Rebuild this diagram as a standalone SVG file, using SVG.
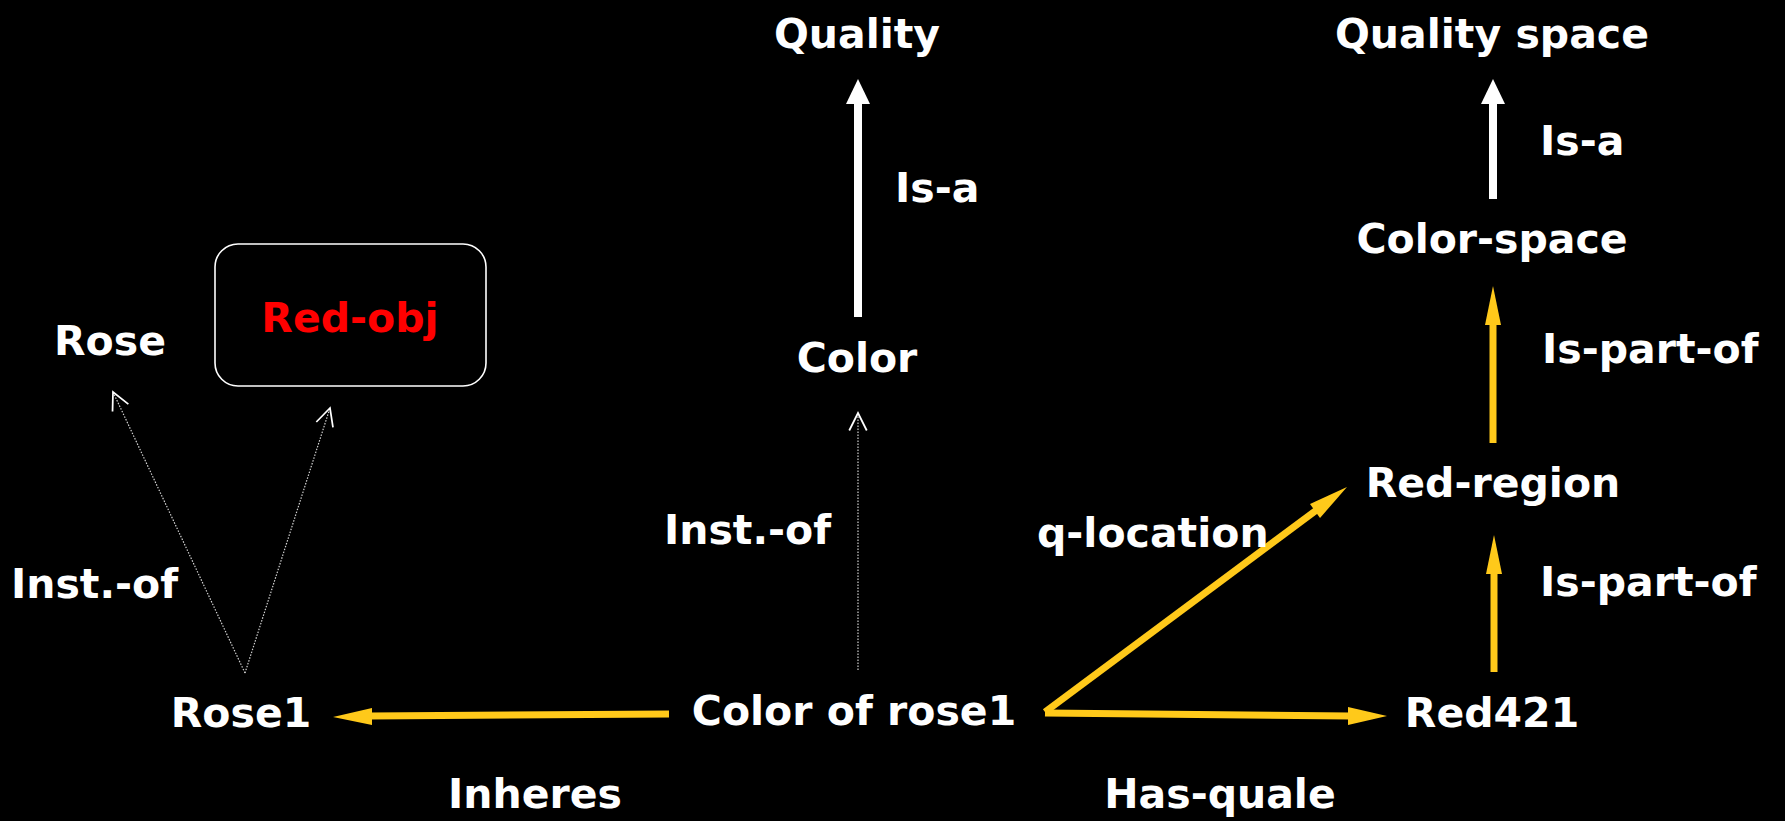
<svg xmlns="http://www.w3.org/2000/svg" width="1785" height="821" viewBox="0 0 1785 821">
<defs>
<style>
text{font-family:"DejaVu Sans","Liberation Sans",sans-serif;font-weight:bold;font-size:41px;fill:#fff}
.c{text-anchor:middle}
.red{fill:#ff0000}
.dot{stroke:#d0d0d0;stroke-width:1.2;stroke-dasharray:1.5 1.5;fill:none}
.wsh{stroke:#fff;stroke-width:8;fill:none}
.ysh{stroke:#ffc91a;stroke-width:7;fill:none}
.wh{fill:#fff}
.yh{fill:#ffc91a}
</style>
<marker id="open" markerUnits="userSpaceOnUse" markerWidth="30" markerHeight="30" viewBox="-20 -10 24 20" refX="0" refY="0" orient="auto">
<path d="M-14,-7 L0,0 L-14,7" fill="none" stroke="#fff" stroke-width="1.4"/>
</marker>
</defs>
<rect width="1785" height="821" fill="#000"/>

<g id="connectors">
<line class="dot" x1="245" y1="673" x2="113" y2="392" marker-end="url(#open)"/>
<line class="dot" x1="245" y1="673" x2="330" y2="408" marker-end="url(#open)"/>
<line class="dot" x1="858" y1="670" x2="858" y2="413" marker-end="url(#open)"/>
<line class="wsh" x1="858" y1="317" x2="858" y2="100"/>
<polygon class="wh" points="858,79 846,104 870,104"/>
<line class="wsh" x1="1493" y1="199" x2="1493" y2="100"/>
<polygon class="wh" points="1493,79 1481,104 1505,104"/>
<line class="ysh" x1="1493" y1="443" x2="1493" y2="322"/>
<polygon class="yh" points="1493,286 1485,325 1501,325"/>
<line class="ysh" x1="1494" y1="672" x2="1494" y2="571"/>
<polygon class="yh" points="1494,535 1486,574 1502,574"/>
<line class="ysh" x1="669" y1="714" x2="370" y2="716"/>
<polygon class="yh" points="333,717 372,708 372,725"/>
<line class="ysh" x1="1045" y1="713" x2="1350" y2="716"/>
<polygon class="yh" points="1387,716 1348,707 1348,725"/>
<line class="ysh" x1="1045" y1="712" x2="1318" y2="509"/>
<polygon class="yh" points="1347,487 1320,518 1310,504"/>
</g>

<g id="node-quality"><text class="c" x="857" y="48">Quality</text></g>
<g id="node-color"><text class="c" x="857" y="372">Color</text></g>
<g id="node-quality-space"><text class="c" x="1492" y="48">Quality space</text></g>
<g id="node-color-space"><text class="c" x="1492" y="253">Color-space</text></g>
<g id="node-red-region"><text class="c" x="1493" y="497">Red-region</text></g>
<g id="node-red421"><text class="c" x="1492" y="727">Red421</text></g>
<g id="node-color-of-rose1"><text class="c" x="854" y="725">Color of rose1</text></g>
<g id="node-rose1"><text class="c" x="241" y="727">Rose1</text></g>
<g id="node-rose"><text class="c" x="110" y="355">Rose</text></g>
<g id="node-red-obj">
<rect x="215" y="244" width="271" height="142" rx="23" ry="23" fill="#000" stroke="#fff" stroke-width="1.6"/>
<text class="c red" x="350" y="332">Red-obj</text>
</g>

<g id="labels">
<text x="895" y="202">Is-a</text>
<text x="1540" y="155">Is-a</text>
<text x="1542" y="363">Is-part-of</text>
<text x="1540" y="596">Is-part-of</text>
<text x="1037" y="547">q-location</text>
<text x="664" y="544">Inst.-of</text>
<text x="11" y="598">Inst.-of</text>
<text class="c" x="535" y="808">Inheres</text>
<text class="c" x="1220" y="808">Has-quale</text>
</g>
</svg>
